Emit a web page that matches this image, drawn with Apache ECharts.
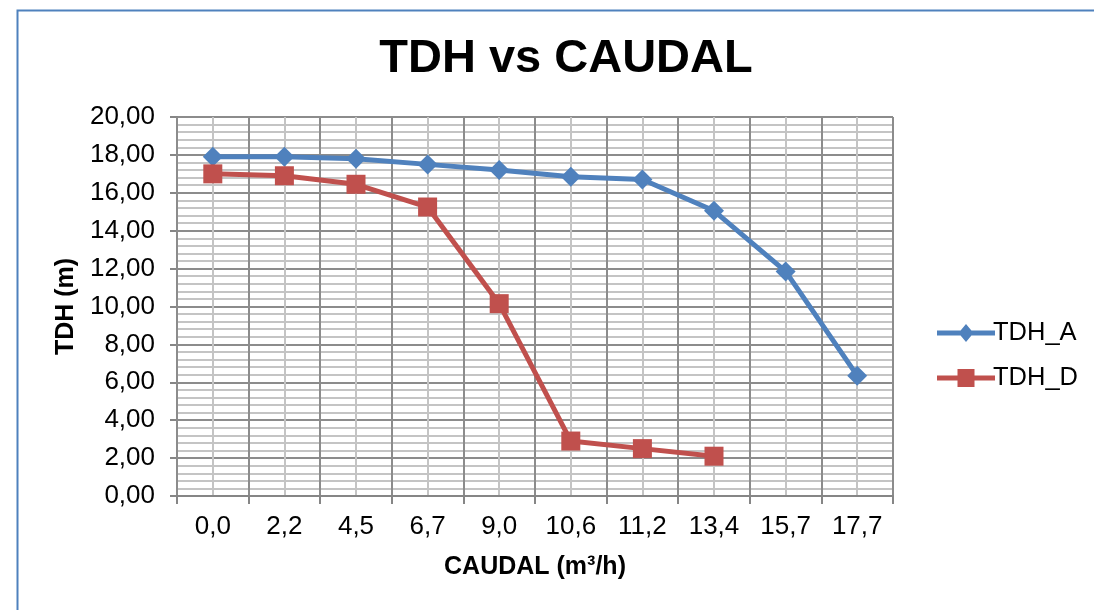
<!DOCTYPE html>
<html>
<head>
<meta charset="utf-8">
<style>
  html, body { margin: 0; padding: 0; background: #fff; }
  #chart { width: 1094px; height: 610px; }
</style>
<script src="https://cdn.jsdelivr.net/npm/echarts@6/dist/echarts.min.js"></script>
</head>
<body>
<div id="chart"></div>
<script>
// Flow rate categories (m³/h)
const caudal = ['0,0', '2,2', '4,5', '6,7', '9,0', '10,6', '11,2', '13,4', '15,7', '17,7'];
// Total dynamic head per pump (m)
const tdhA = [17.9, 17.9, 17.8, 17.5, 17.2, 16.85, 16.7, 15.05, 11.85, 6.35];
const tdhD = [17.0, 16.9, 16.45, 15.25, 10.15, 2.9, 2.5, 2.1, null, null];

const FONT = '"Liberation Sans", Arial, sans-serif';
const fmtComma = v => v.toFixed(2).replace('.', ',');

// Legend glyphs: a thick line segment with the series marker in the middle
const ICON_DIAMOND = 'path://M0,6.5 L58,6.5 L58,11.5 L0,11.5 Z M29,0 L36.5,9 L29,18 L21.5,9 Z';
const ICON_SQUARE = 'path://M0,6.5 L58,6.5 L58,11.5 L0,11.5 Z M20.5,0 L37.5,0 L37.5,18 L20.5,18 Z';

const chart = echarts.init(document.getElementById('chart'), null, { renderer: 'canvas' });

chart.setOption({
  animation: false,
  backgroundColor: '#ffffff',
  textStyle: { fontFamily: FONT },
  graphic: [{
    type: 'rect',
    left: 15, top: 8,
    shape: { width: 1110, height: 640 },
    style: { fill: 'none', stroke: '#4F81BD', lineWidth: 2 },
    silent: true
  }],
  title: {
    text: 'TDH vs CAUDAL',
    left: 561, top: 31,
    textAlign: 'center',
    textStyle: { fontFamily: FONT, fontSize: 47, fontWeight: 'bold', color: '#000' }
  },
  legend: {
    orient: 'vertical',
    left: 932, top: 315,
    itemWidth: 58, itemHeight: 18,
    itemGap: 19,
    textStyle: { fontFamily: FONT, fontSize: 25.5, color: '#000', padding: [0, 0, 0, -7] },
    data: [
      { name: 'TDH_A', icon: ICON_DIAMOND },
      { name: 'TDH_D', icon: ICON_SQUARE }
    ]
  },
  grid: { left: 177, right: 201, top: 117, bottom: 114, containLabel: false },
  xAxis: [{
    type: 'category',
    data: caudal,
    boundaryGap: true,
    name: 'CAUDAL (m³/h)',
    nameLocation: 'middle',
    nameGap: 59,
    nameTextStyle: { fontFamily: FONT, fontSize: 25, fontWeight: 'bold', color: '#000' },
    axisLine: { lineStyle: { color: '#868686', width: 2 } },
    axisTick: { show: true, length: 8, lineStyle: { color: '#868686', width: 2 } },
    axisLabel: { fontFamily: FONT, fontSize: 26, color: '#000', margin: 18 },
    splitLine: { show: true, lineStyle: { color: '#8c8c8c', width: 2 } },
    z: 3
  }, {
    // helper axis for the light lines through each category centre
    type: 'value',
    min: 0, max: 10, interval: 1,
    position: 'top',
    axisLine: { show: false },
    axisTick: { show: false },
    axisLabel: { show: false },
    splitLine: { show: false },
    minorTick: { show: false, splitNumber: 2 },
    minorSplitLine: { show: true, lineStyle: { color: '#c4c4c4', width: 2 } }
  }],
  yAxis: {
    type: 'value',
    min: 0, max: 20, interval: 2,
    name: 'TDH (m)',
    nameLocation: 'middle',
    nameGap: 97,
    nameRotate: 90,
    nameTextStyle: { fontFamily: FONT, fontSize: 25, fontWeight: 'bold', color: '#000' },
    axisLine: { show: true, lineStyle: { color: '#868686', width: 2 } },
    axisTick: { show: true, length: 7, lineStyle: { color: '#868686', width: 2 } },
    axisLabel: { fontFamily: FONT, fontSize: 26, color: '#000', margin: 22, formatter: fmtComma },
    splitLine: { show: true, lineStyle: { color: '#8c8c8c', width: 2 } },
    minorTick: { show: false, splitNumber: 5 },
    minorSplitLine: { show: true, lineStyle: { color: '#c4c4c4', width: 2 } }
  },
  series: [{
    name: 'TDH_A',
    type: 'line',
    data: tdhA,
    symbol: 'diamond',
    symbolSize: 20,
    lineStyle: { color: '#4F81BD', width: 5 },
    itemStyle: { color: '#4F81BD' },
    z: 4
  }, {
    name: 'TDH_D',
    type: 'line',
    data: tdhD,
    symbol: 'rect',
    symbolSize: 19,
    lineStyle: { color: '#C0504D', width: 5 },
    itemStyle: { color: '#C0504D' },
    z: 5
  }]
});
</script>
</body>
</html>
